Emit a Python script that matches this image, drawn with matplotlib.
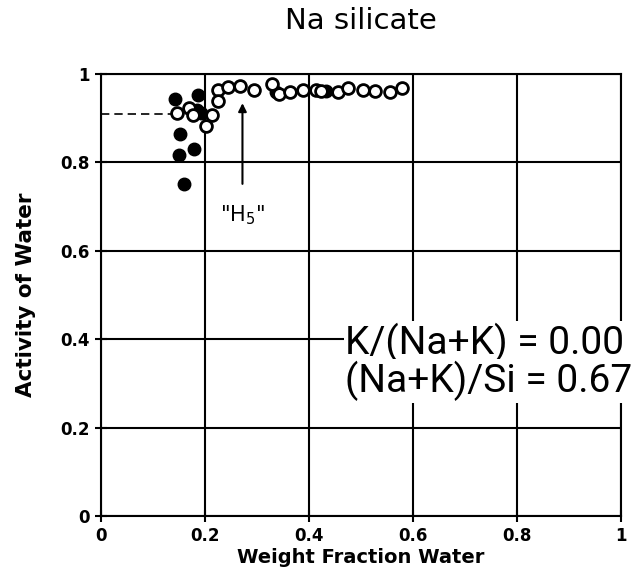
import matplotlib
matplotlib.use("Agg")
import matplotlib.pyplot as plt

# open circles (weight fraction water, activity of water)
open_x = [0.146, 0.170, 0.176, 0.214, 0.201, 0.225, 0.225, 0.244, 0.268, 0.295,
          0.329, 0.342, 0.363, 0.388, 0.414, 0.424, 0.455, 0.475, 0.504, 0.528,
          0.555, 0.579]
open_y = [0.912, 0.923, 0.908, 0.908, 0.881, 0.964, 0.938, 0.971, 0.972, 0.964,
          0.978, 0.955, 0.960, 0.964, 0.964, 0.962, 0.958, 0.967, 0.964, 0.962,
          0.958, 0.968]

# filled circles
fill_x = [0.143, 0.186, 0.151, 0.150, 0.178, 0.159, 0.193, 0.184, 0.336, 0.433]
fill_y = [0.943, 0.953, 0.865, 0.817, 0.830, 0.750, 0.912, 0.919, 0.958, 0.961]

ticks = [0, 0.2, 0.4, 0.6, 0.8, 1]
tick_labels = ["0", "0.2", "0.4", "0.6", "0.8", "1"]

fig = plt.figure(figsize=(6.36, 5.86), dpi=100)
ax = fig.add_axes([0.159, 0.119, 0.817, 0.755])

ax.set_xlim(0, 1)
ax.set_ylim(0, 1)
ax.set_xticks(ticks)
ax.set_yticks(ticks)
ax.set_xticklabels(tick_labels, fontweight="bold", fontsize=12)
ax.set_yticklabels(tick_labels, fontweight="bold", fontsize=12)
ax.tick_params(direction="inout", length=9, width=1.5, colors="black")
ax.grid(True, color="black", linewidth=1.5)
ax.set_axisbelow(True)
for s in ax.spines.values():
    s.set_linewidth(1.5)

# dashed reference level
ax.plot([0, 0.14], [0.91, 0.91], color="black", linestyle=(0, (5, 3)), linewidth=1.2, zorder=3)

ax.plot(fill_x, fill_y, "o", color="black", markersize=9, zorder=4)
ax.plot(open_x, open_y, "o", markerfacecolor="white", markeredgecolor="black",
        markersize=8.5, markeredgewidth=2, zorder=5)

# H5 arrow
ax.annotate("", xy=(0.272, 0.94), xytext=(0.272, 0.745),
            arrowprops=dict(arrowstyle="-|>", color="black", lw=1.5, mutation_scale=12))
ax.text(0.272, 0.68, '"H$_5$"', ha="center", va="center", fontsize=15)

box_font = ["Roboto", "DejaVu Sans"]
ax.text(0.47, 0.392, "K/(Na+K) = 0.00", fontsize=28, va="center", ha="left",
        family=box_font, zorder=6, clip_on=False,
        bbox=dict(facecolor="white", edgecolor="none", pad=1))
ax.text(0.47, 0.306, "(Na+K)/Si = 0.67", fontsize=28, va="center", ha="left",
        family=box_font, zorder=6, clip_on=False,
        bbox=dict(facecolor="white", edgecolor="none", pad=1))

ax.set_xlabel("Weight Fraction Water", fontweight="bold", fontsize=14, labelpad=2)
ax.set_ylabel("Activity of Water", fontweight="bold", fontsize=15.5, labelpad=18)
fig.text(0.567, 0.965, "Na silicate", ha="center", va="center", fontsize=21)

plt.savefig("out.png", dpi=100)
plt.close()
